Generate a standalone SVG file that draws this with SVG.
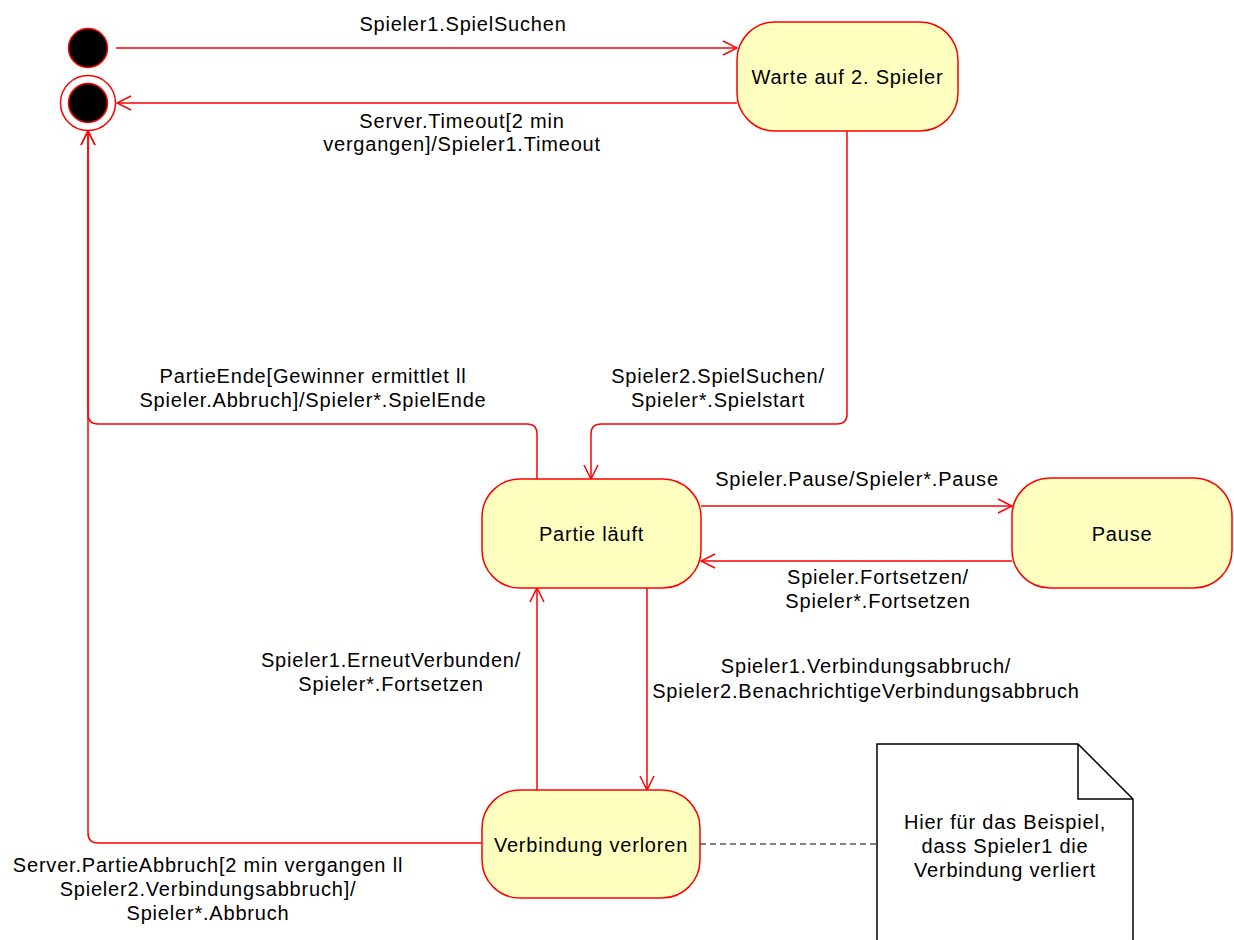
<svg xmlns="http://www.w3.org/2000/svg" width="1234" height="940" viewBox="0 0 1234 940">
<defs>
<marker id="arr" viewBox="0 0 16 16" refX="15" refY="8" markerWidth="16" markerHeight="16" markerUnits="userSpaceOnUse" orient="auto">
<path d="M1,1 L15,8 L1,15" fill="none" stroke="#ff0000" stroke-width="1.5"/>
</marker>
</defs>
<style>
.st{fill:#ffffc0;stroke:#ff0000;stroke-width:1.5}
.ln{fill:none;stroke:#ff0000;stroke-width:1.5}
.t{font-family:"Liberation Sans",Arial,sans-serif;font-size:20px;letter-spacing:0.8px;fill:#000;text-anchor:middle}
</style>
<rect width="1234" height="940" fill="#fff"/>
<g id="connectors">
<path class="ln" d="M116,48 L737,48" marker-end="url(#arr)"/>
<path class="ln" d="M737,103 L117,103" marker-end="url(#arr)"/>
<path class="ln" d="M847,131 L847,414 Q847,424 837,424 L601,424 Q591,424 591,434 L591,479" marker-end="url(#arr)"/>
<path class="ln" d="M537,479 L537,434 Q537,424 527,424 L98,424 Q88,424 88,414 L88,131" marker-end="url(#arr)"/>
<path class="ln" d="M482,843 L98,843 Q88,843 88,833 L88,131" marker-end="url(#arr)"/>
<path class="ln" d="M701,506 L1012,506" marker-end="url(#arr)"/>
<path class="ln" d="M1012,561 L701,561" marker-end="url(#arr)"/>
<path class="ln" d="M647,588 L647,790" marker-end="url(#arr)"/>
<path class="ln" d="M537,790 L537,588" marker-end="url(#arr)"/>
<path d="M700,844 L877,844" fill="none" stroke="#000" stroke-width="1" stroke-dasharray="6,4"/>
</g>
<g id="initial"><circle cx="88" cy="48" r="19.5" fill="#000" stroke="#ff0000" stroke-width="1.5"/></g>
<g id="final"><circle cx="88" cy="103" r="27.5" fill="#fff" stroke="#ff0000" stroke-width="1.5"/><circle cx="88" cy="103" r="19.5" fill="#000" stroke="#ff0000" stroke-width="1.5"/></g>
<g id="warte"><rect class="st" x="737" y="22" width="221" height="109" rx="38" ry="38"/><text class="t" x="847.5" y="84">Warte auf 2. Spieler</text></g>
<g id="partie"><rect class="st" x="482" y="479" width="219" height="109" rx="38" ry="38"/><text class="t" x="591.5" y="541">Partie läuft</text></g>
<g id="pause"><rect class="st" x="1012" y="478" width="220" height="110" rx="38" ry="38"/><text class="t" x="1122" y="541">Pause</text></g>
<g id="verbindung"><rect class="st" x="482" y="790" width="218" height="108" rx="38" ry="38"/><text class="t" x="591" y="852">Verbindung verloren</text></g>
<g id="note"><path d="M877,944 L877,744 L1078,744 L1133,799 L1133,944" fill="#fff" stroke="#000" stroke-width="1.5"/><path d="M1078,744 L1078,799 L1133,799" fill="none" stroke="#000" stroke-width="1.5"/>
<text class="t" x="1005" y="829">Hier für das Beispiel,</text><text class="t" x="1005" y="853">dass Spieler1 die</text><text class="t" x="1005" y="877">Verbindung verliert</text></g>
<g id="labels">
<text class="t" x="463" y="31">Spieler1.SpielSuchen</text>
<text class="t" x="462" y="128">Server.Timeout[2 min</text>
<text class="t" x="462" y="151">vergangen]/Spieler1.Timeout</text>
<text class="t" x="313" y="383">PartieEnde[Gewinner ermittlet ll</text>
<text class="t" x="313" y="407">Spieler.Abbruch]/Spieler*.SpielEnde</text>
<text class="t" x="718" y="383">Spieler2.SpielSuchen/</text>
<text class="t" x="718" y="407">Spieler*.Spielstart</text>
<text class="t" x="857" y="486">Spieler.Pause/Spieler*.Pause</text>
<text class="t" x="878" y="584">Spieler.Fortsetzen/</text>
<text class="t" x="878" y="608">Spieler*.Fortsetzen</text>
<text class="t" x="391" y="667">Spieler1.ErneutVerbunden/</text>
<text class="t" x="391" y="691">Spieler*.Fortsetzen</text>
<text class="t" x="866" y="673">Spieler1.Verbindungsabbruch/</text>
<text class="t" x="866" y="698">Spieler2.BenachrichtigeVerbindungsabbruch</text>
<text class="t" x="208" y="872">Server.PartieAbbruch[2 min vergangen ll</text>
<text class="t" x="208" y="896">Spieler2.Verbindungsabbruch]/</text>
<text class="t" x="208" y="920">Spieler*.Abbruch</text>
</g>
</svg>
